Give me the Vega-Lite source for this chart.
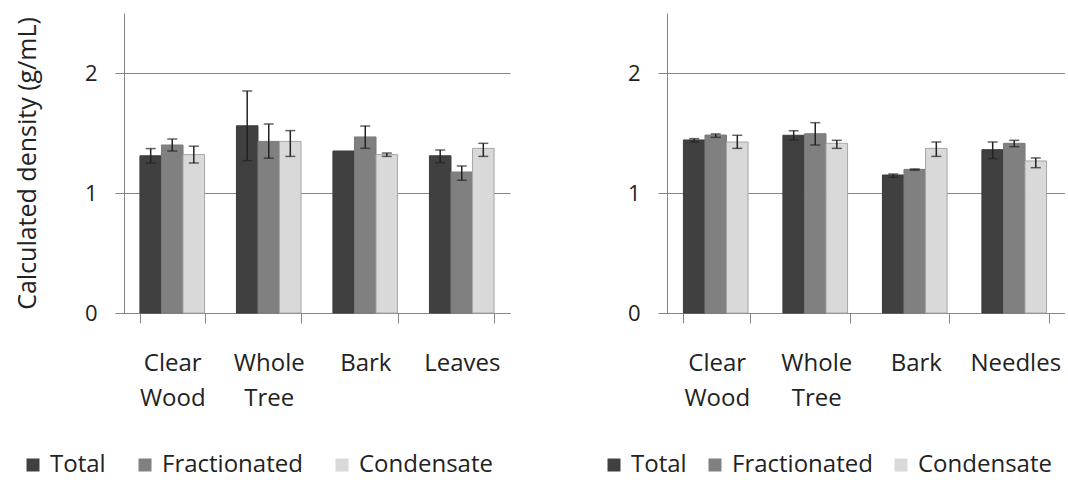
{
  "$schema": "https://vega.github.io/schema/vega-lite/v6.json",
  "padding": {"left": 15, "top": 13, "right": 0, "bottom": 3},
  "background": "white",
  "datasets": {
    "left": [
      {"category": "Clear Wood", "series": "Total", "value": 1.31, "lo": 1.25, "hi": 1.37},
      {"category": "Clear Wood", "series": "Fractionated", "value": 1.40, "lo": 1.35, "hi": 1.45},
      {"category": "Clear Wood", "series": "Condensate", "value": 1.32, "lo": 1.25, "hi": 1.39},
      {"category": "Whole Tree", "series": "Total", "value": 1.56, "lo": 1.27, "hi": 1.85},
      {"category": "Whole Tree", "series": "Fractionated", "value": 1.43, "lo": 1.29, "hi": 1.575},
      {"category": "Whole Tree", "series": "Condensate", "value": 1.43, "lo": 1.305, "hi": 1.52},
      {"category": "Bark", "series": "Total", "value": 1.35, "lo": null, "hi": null},
      {"category": "Bark", "series": "Fractionated", "value": 1.467, "lo": 1.372, "hi": 1.558},
      {"category": "Bark", "series": "Condensate", "value": 1.32, "lo": 1.305, "hi": 1.333},
      {"category": "Leaves", "series": "Total", "value": 1.31, "lo": 1.253, "hi": 1.358},
      {"category": "Leaves", "series": "Fractionated", "value": 1.175, "lo": 1.106, "hi": 1.225},
      {"category": "Leaves", "series": "Condensate", "value": 1.372, "lo": 1.305, "hi": 1.414}
    ],
    "right": [
      {"category": "Clear Wood", "series": "Total", "value": 1.442, "lo": 1.425, "hi": 1.453},
      {"category": "Clear Wood", "series": "Fractionated", "value": 1.483, "lo": 1.464, "hi": 1.492},
      {"category": "Clear Wood", "series": "Condensate", "value": 1.425, "lo": 1.372, "hi": 1.481},
      {"category": "Whole Tree", "series": "Total", "value": 1.481, "lo": 1.442, "hi": 1.519},
      {"category": "Whole Tree", "series": "Fractionated", "value": 1.494, "lo": 1.40, "hi": 1.586},
      {"category": "Whole Tree", "series": "Condensate", "value": 1.414, "lo": 1.372, "hi": 1.439},
      {"category": "Bark", "series": "Total", "value": 1.15, "lo": 1.131, "hi": 1.158},
      {"category": "Bark", "series": "Fractionated", "value": 1.197, "lo": 1.19, "hi": 1.20},
      {"category": "Bark", "series": "Condensate", "value": 1.372, "lo": 1.305, "hi": 1.425},
      {"category": "Needles", "series": "Total", "value": 1.361, "lo": 1.286, "hi": 1.425},
      {"category": "Needles", "series": "Fractionated", "value": 1.414, "lo": 1.386, "hi": 1.439},
      {"category": "Needles", "series": "Condensate", "value": 1.267, "lo": 1.211, "hi": 1.292}
    ]
  },
  "config": {
    "font": "Open Sans",
    "view": {"stroke": null},
    "axis": {
      "labelFont": "Open Sans",
      "titleFont": "Open Sans",
      "labelColor": "#222222",
      "titleColor": "#222222",
      "domainColor": "#868686",
      "tickColor": "#868686",
      "gridColor": "#868686",
      "gridOpacity": 1,
      "domainWidth": 1,
      "tickWidth": 1,
      "gridWidth": 1
    },
    "legend": {
      "labelFont": "Open Sans",
      "labelFontSize": 24,
      "labelColor": "#222222",
      "labelLimit": 300,
      "symbolType": "square",
      "symbolSize": 169,
      "symbolStrokeWidth": 0,
      "symbolOpacity": 1,
      "labelOffset": 5,
      "padding": 0,
      "title": null,
      "direction": "horizontal",
      "orient": "none"
    }
  },
  "resolve": {"scale": {"color": "independent"}},
  "spacing": 92,
  "hconcat": [
    {
      "width": 386,
      "height": 300,
      "data": {"name": "left"},
      "encoding": {
        "x": {
          "field": "category", "type": "nominal", "sort": null,
          "scale": {"paddingInner": 0.33, "paddingOuter": 0.165},
          "axis": {
            "title": null, "labelAngle": 0, "labelFontSize": 24, "labelLineHeight": 35,
            "labelExpr": "split(datum.label, ' ')", "tickBand": "extent", "tickSize": 10,
            "labelPadding": 28, "labelBaseline": "top"
          }
        },
        "xOffset": {"field": "series", "type": "nominal", "scale": {"domain": ["Total", "Fractionated", "Condensate"], "paddingInner": 0, "paddingOuter": 0}}
      },
      "layer": [
        {
          "mark": {"type": "bar", "strokeWidth": 1},
          "encoding": {
            "y": {
              "field": "value", "type": "quantitative",
              "scale": {"domain": [0, 2.5], "nice": false},
              "axis": {
                "title": "Calculated density (g/mL)", "titleFontSize": 25, "titleFontWeight": "normal",
                "titlePadding": 44, "values": [0, 1, 2], "grid": true, "labelFontSize": 22,
                "tickSize": 9, "labelPadding": 18, "format": "d"
              }
            },
            "color": {
              "field": "series", "type": "nominal",
              "scale": {"domain": ["Total", "Fractionated", "Condensate"], "range": ["#404040", "#808080", "#d9d9d9"]},
              "legend": {"legendX": -103, "legendY": 440, "columnPadding": 27}
            },
            "stroke": {
              "field": "series", "type": "nominal",
              "scale": {"domain": ["Total", "Fractionated", "Condensate"], "range": ["#3a3a3a", "#7a7a7a", "#a6a6a6"]},
              "legend": null
            }
          }
        },
        {
          "mark": {"type": "rule", "color": "#222222", "strokeWidth": 1.5},
          "encoding": {"y": {"field": "lo", "type": "quantitative"}, "y2": {"field": "hi"}}
        },
        {
          "mark": {"type": "tick", "color": "#222222", "size": 10, "thickness": 1.5},
          "encoding": {"y": {"field": "lo", "type": "quantitative"}}
        },
        {
          "mark": {"type": "tick", "color": "#222222", "size": 10, "thickness": 1.5},
          "encoding": {"y": {"field": "hi", "type": "quantitative"}}
        }
      ]
    },
    {
      "width": 398,
      "height": 300,
      "data": {"name": "right"},
      "encoding": {
        "x": {
          "field": "category", "type": "nominal", "sort": null,
          "scale": {"paddingInner": 0.33, "paddingOuter": 0.165},
          "axis": {
            "title": null, "labelAngle": 0, "labelFontSize": 24, "labelLineHeight": 35,
            "labelExpr": "split(datum.label, ' ')", "tickBand": "extent", "tickSize": 10,
            "labelPadding": 28, "labelBaseline": "top"
          }
        },
        "xOffset": {"field": "series", "type": "nominal", "scale": {"domain": ["Total", "Fractionated", "Condensate"], "paddingInner": 0, "paddingOuter": 0}}
      },
      "layer": [
        {
          "mark": {"type": "bar", "strokeWidth": 1},
          "encoding": {
            "y": {
              "field": "value", "type": "quantitative",
              "scale": {"domain": [0, 2.5], "nice": false},
              "axis": {
                "title": null, "values": [0, 1, 2], "grid": true, "labelFontSize": 22,
                "tickSize": 9, "labelPadding": 18, "format": "d"
              }
            },
            "color": {
              "field": "series", "type": "nominal",
              "scale": {"domain": ["Total", "Fractionated", "Condensate"], "range": ["#404040", "#808080", "#d9d9d9"]},
              "legend": {"legendX": -65, "legendY": 440, "columnPadding": 16}
            },
            "stroke": {
              "field": "series", "type": "nominal",
              "scale": {"domain": ["Total", "Fractionated", "Condensate"], "range": ["#3a3a3a", "#7a7a7a", "#a6a6a6"]},
              "legend": null
            }
          }
        },
        {
          "mark": {"type": "rule", "color": "#222222", "strokeWidth": 1.5},
          "encoding": {"y": {"field": "lo", "type": "quantitative"}, "y2": {"field": "hi"}}
        },
        {
          "mark": {"type": "tick", "color": "#222222", "size": 10, "thickness": 1.5},
          "encoding": {"y": {"field": "lo", "type": "quantitative"}}
        },
        {
          "mark": {"type": "tick", "color": "#222222", "size": 10, "thickness": 1.5},
          "encoding": {"y": {"field": "hi", "type": "quantitative"}}
        }
      ]
    }
  ]
}
